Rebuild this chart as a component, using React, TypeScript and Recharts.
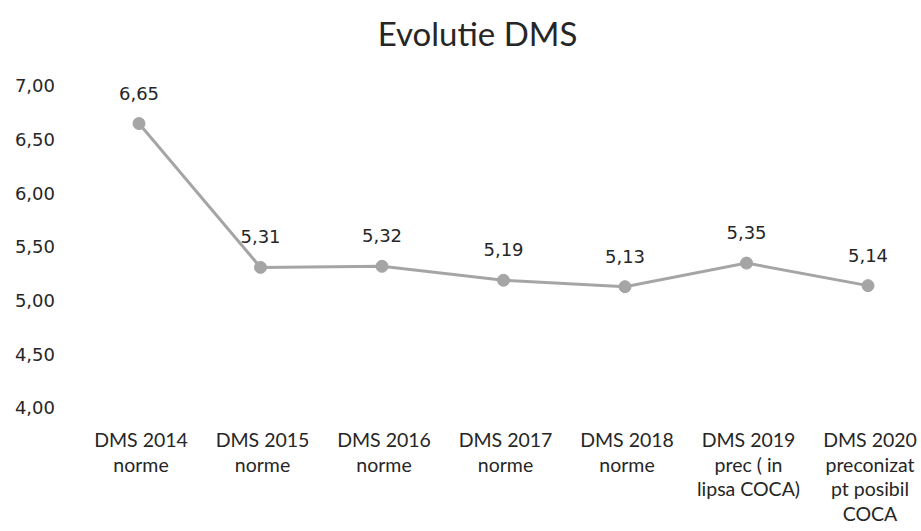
import React from 'react';
import { LineChart, Line, XAxis, YAxis, LabelList } from 'recharts';

const categories = [
  ['DMS 2014', 'norme'],
  ['DMS 2015', 'norme'],
  ['DMS 2016', 'norme'],
  ['DMS 2017', 'norme'],
  ['DMS 2018', 'norme'],
  ['DMS 2019', 'prec ( in', 'lipsa COCA)'],
  ['DMS 2020', 'preconizat', 'pt posibil', 'COCA'],
];

const dmsValues = [6.65, 5.31, 5.32, 5.19, 5.13, 5.35, 5.14];

const yTicks = [4, 4.5, 5, 5.5, 6, 6.5, 7];

const data = categories.map((lines, i) => ({
  name: lines.join('\n'),
  dms: dmsValues[i],
}));

const fmt = (v: number) => v.toFixed(2).replace('.', ',');

const CategoryTick = (props: any) => {
  const { x, y, payload } = props;
  const lines = String(payload.value).split('\n');
  return (
    <text x={x + 2} y={y} textAnchor="middle" fill="#262626" fontFamily="Lato" fontSize={19.5}>
      {lines.map((l: string, i: number) => (
        <tspan key={i} x={x + 2} dy={i === 0 ? 31 : 24.5}>
          {l}
        </tspan>
      ))}
    </text>
  );
};

const App: React.FC = () => {
  if (typeof document !== 'undefined') document.body.style.margin = '0';
  return (
    <div style={{ position: 'relative', width: 921, height: 531, overflow: 'hidden', background: '#fff' }}>
      <div
        style={{
          position: 'absolute',
          top: 13,
          left: 0,
          width: 955,
          textAlign: 'center',
          fontFamily: 'Lato',
          fontSize: 33,
          color: '#262626',
        }}
      >
        Evolutie DMS
      </div>
      <LineChart width={921} height={531} data={data} margin={{ top: 86, right: 0, left: 0, bottom: 0 }}>
        <YAxis
          domain={[4, 7]}
          ticks={yTicks}
          tickFormatter={fmt}
          axisLine={false}
          tickLine={false}
          tickSize={0}
          tickMargin={15}
          width={70}
          tick={{ fill: '#262626', fontFamily: 'DejaVu Sans', fontSize: 18 }}
        />
        <XAxis
          dataKey="name"
          axisLine={false}
          tickLine={false}
          height={123}
          padding={{ left: 69, right: 53 }}
          interval={0}
          tick={<CategoryTick />}
        />
        <Line
          dataKey="dms"
          stroke="#a5a5a5"
          strokeWidth={3}
          dot={{ r: 6, fill: '#a5a5a5', stroke: '#a5a5a5', strokeWidth: 1 }}
          isAnimationActive={false}
        >
          <LabelList
            dataKey="dms"
            position="top"
            offset={24}
            formatter={(v: any) => fmt(Number(v))}
            fill="#262626"
            fontFamily="DejaVu Sans"
            fontSize={18}
          />
        </Line>
      </LineChart>
    </div>
  );
};

export default App;
